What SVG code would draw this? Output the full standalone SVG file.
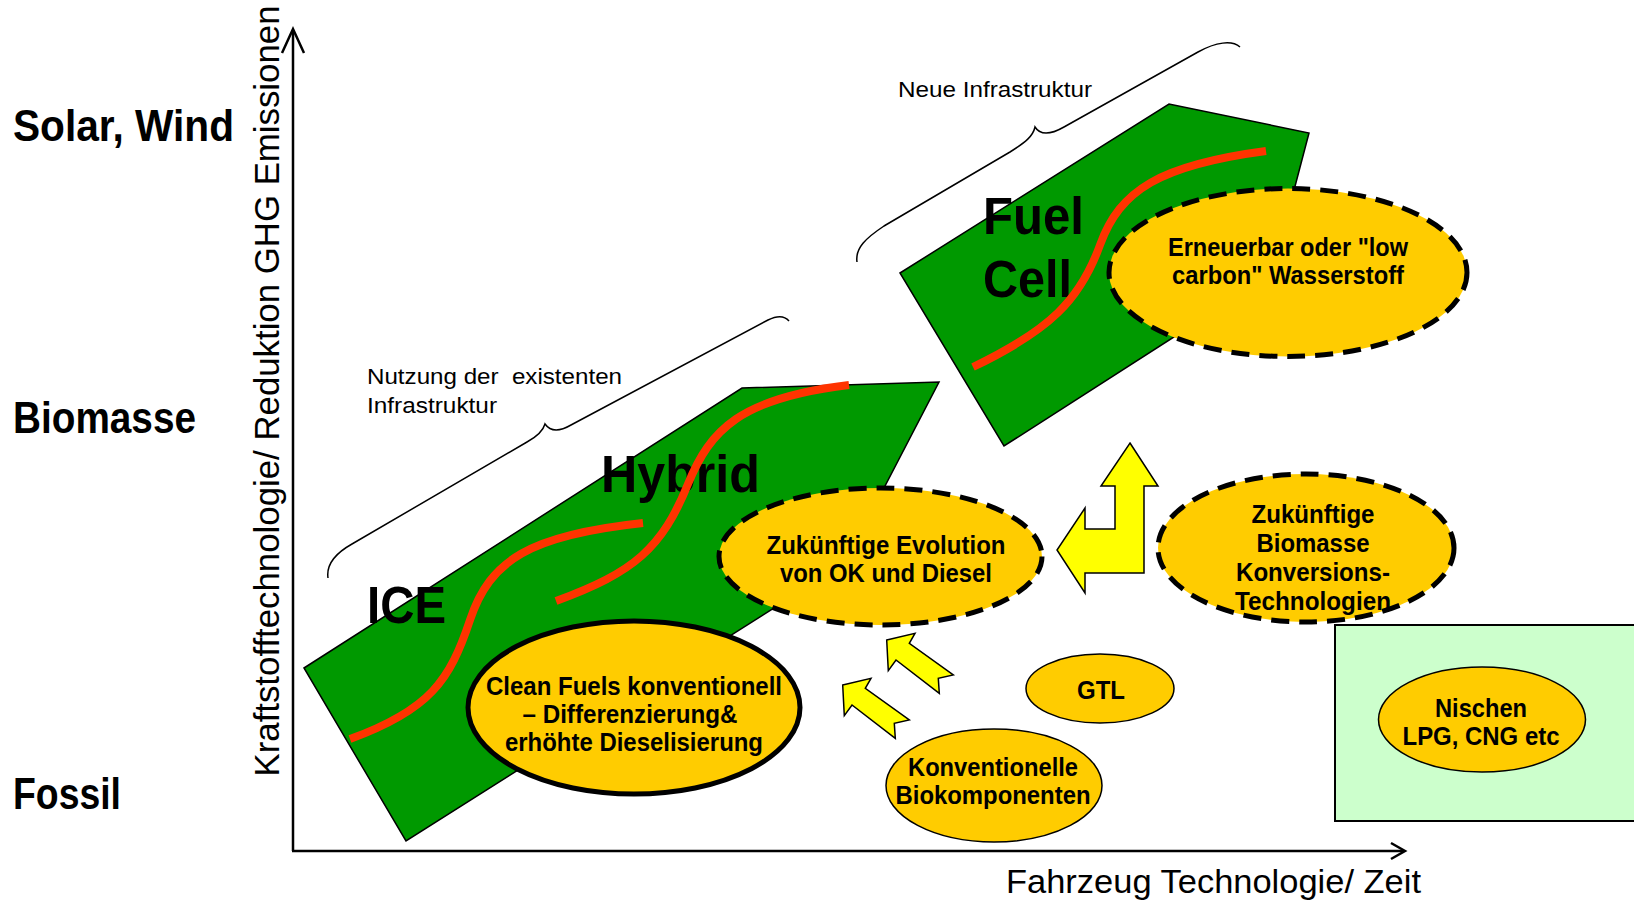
<svg xmlns="http://www.w3.org/2000/svg" width="1634" height="902" viewBox="0 0 1634 902">
<style>
.b{font-family:"Liberation Sans",Arial,sans-serif;font-weight:bold;fill:#000}
.n{font-family:"Liberation Sans",Arial,sans-serif;font-weight:normal;fill:#000}
.et{font-size:25px;text-anchor:middle}
.green{fill:#009900;stroke:#000;stroke-width:1.5;stroke-linejoin:miter}
.ell{fill:#FFCC00;stroke:#000}
.dash{stroke-width:5;stroke-dasharray:18 10}
.solid{stroke-width:1.5}
.thick{stroke-width:5}
.red{fill:none;stroke:#FF3300;stroke-width:8}
.brace{fill:none;stroke:#000;stroke-width:1.5}
.arrow{fill:#FFFF00;stroke:#000;stroke-width:1.5;stroke-linejoin:miter}
.axis{fill:none;stroke:#000;stroke-width:2.5}
</style>
<rect width="1634" height="902" fill="#fff"/>

<g id="axes">
  <line class="axis" x1="293" y1="851" x2="293" y2="30"/>
  <polyline class="axis" points="282,53 293,29 304,53" stroke-width="2"/>
  <line class="axis" x1="292" y1="851" x2="1404" y2="851"/>
  <polyline class="axis" points="1391,843 1405,851 1391,859" stroke-width="2"/>
  <text class="n" font-size="35" text-anchor="middle" textLength="771" lengthAdjust="spacingAndGlyphs" transform="translate(279,391) rotate(-90)">Kraftstofftechnologie/ Reduktion GHG Emissionen</text>
  <text class="n" x="1006" y="893" font-size="34" textLength="415" lengthAdjust="spacingAndGlyphs">Fahrzeug Technologie/ Zeit</text>
</g>

<g id="source-labels">
  <text class="b" x="13" y="141" font-size="45" textLength="221" lengthAdjust="spacingAndGlyphs">Solar, Wind</text>
  <text class="b" x="13" y="433" font-size="45" textLength="183" lengthAdjust="spacingAndGlyphs">Biomasse</text>
  <text class="b" x="13" y="809" font-size="45" textLength="108" lengthAdjust="spacingAndGlyphs">Fossil</text>
</g>

<g id="braces">
  <path class="brace" d="M857,262 C855,248 866,238 884,226 L1010,152 C1026,142 1033,136 1035,127 C1040,135 1050,135 1064,127 L1198,52 C1216,42 1232,40 1240,47"/>
  <text class="n" x="898" y="97" font-size="22" textLength="194" lengthAdjust="spacingAndGlyphs">Neue Infrastruktur</text>
  <path class="brace" d="M328,578 C326,564 336,553 352,544 L527,442 C538,436 543,431 545,424 C550,431 559,432 571,425 L768,320 C776,316 784,315 789,321"/>
  <text class="n" x="367" y="384" font-size="22" textLength="255" lengthAdjust="spacingAndGlyphs" style="white-space:pre">Nutzung der  existenten</text>
  <text class="n" x="367" y="413" font-size="22" textLength="130" lengthAdjust="spacingAndGlyphs">Infrastruktur</text>
</g>

<g id="ice-hybrid">
  <polygon class="green" points="304,668 742,388 939,382 845,563 406,841"/>
  <text class="b" x="367" y="623" font-size="51" textLength="79" lengthAdjust="spacingAndGlyphs">ICE</text>
  <text class="b" x="601" y="492" font-size="51" textLength="159" lengthAdjust="spacingAndGlyphs">Hybrid</text>
</g>

<g id="fuel-cell">
  <polygon class="green" points="900,273 1169,104 1309,133 1272,274 1004,446"/>
  <text class="b" x="983" y="234" font-size="51" textLength="101" lengthAdjust="spacingAndGlyphs">Fuel</text>
  <text class="b" x="983" y="297" font-size="51" textLength="89" lengthAdjust="spacingAndGlyphs">Cell</text>
</g>

<g id="niche-area">
  <rect x="1335" y="625" width="305" height="196" fill="#CCFFCC" stroke="#000" stroke-width="2"/>
</g>

<g id="erneuerbar">
  <ellipse class="ell dash" cx="1288" cy="272.5" rx="179" ry="84"/>
  <text class="b et" x="1288" y="256" textLength="240" lengthAdjust="spacingAndGlyphs">Erneuerbar oder "low</text>
  <text class="b et" x="1288" y="284" textLength="232" lengthAdjust="spacingAndGlyphs">carbon" Wasserstoff</text>
</g>

<g id="evolution">
  <ellipse class="ell dash" cx="880.5" cy="556.5" rx="161.5" ry="68.5"/>
  <text class="b et" x="886" y="554" textLength="239" lengthAdjust="spacingAndGlyphs">Zukünftige Evolution</text>
  <text class="b et" x="886" y="582" textLength="212" lengthAdjust="spacingAndGlyphs">von OK und Diesel</text>
</g>

<g id="biomasse-tech">
  <ellipse class="ell dash" cx="1306" cy="548" rx="148" ry="74"/>
  <text class="b et" x="1313" y="523" textLength="123" lengthAdjust="spacingAndGlyphs">Zukünftige</text>
  <text class="b et" x="1313" y="552" textLength="113" lengthAdjust="spacingAndGlyphs">Biomasse</text>
  <text class="b et" x="1313" y="581" textLength="154" lengthAdjust="spacingAndGlyphs">Konversions-</text>
  <text class="b et" x="1313" y="610" textLength="156" lengthAdjust="spacingAndGlyphs">Technologien</text>
</g>

<g id="clean-fuels">
  <ellipse class="ell thick" cx="634" cy="707.5" rx="166" ry="86.5"/>
  <text class="b et" x="634" y="695" textLength="296" lengthAdjust="spacingAndGlyphs">Clean Fuels konventionell</text>
  <text class="b et" x="630" y="723" textLength="215" lengthAdjust="spacingAndGlyphs">– Differenzierung&amp;</text>
  <text class="b et" x="634" y="751" textLength="258" lengthAdjust="spacingAndGlyphs">erhöhte Dieselisierung</text>
</g>

<g id="gtl">
  <ellipse class="ell solid" cx="1100" cy="688.5" rx="74" ry="34.5"/>
  <text class="b et" x="1101" y="699" textLength="48" lengthAdjust="spacingAndGlyphs">GTL</text>
</g>

<g id="biokomponenten">
  <ellipse class="ell solid" cx="994" cy="785.5" rx="108" ry="56.5"/>
  <text class="b et" x="993" y="776" textLength="170" lengthAdjust="spacingAndGlyphs">Konventionelle</text>
  <text class="b et" x="993" y="804" textLength="195" lengthAdjust="spacingAndGlyphs">Biokomponenten</text>
</g>

<g id="nischen">
  <ellipse class="ell solid" cx="1482" cy="719.5" rx="103.5" ry="52.5"/>
  <text class="b et" x="1481" y="717" textLength="92" lengthAdjust="spacingAndGlyphs">Nischen</text>
  <text class="b et" x="1481" y="745" textLength="157" lengthAdjust="spacingAndGlyphs">LPG, CNG etc</text>
</g>

<g id="curves">
  <path class="red" d="M350,739 C430,710 450,680 470,620 C490,560 530,535 643,523"/>
  <path class="red" d="M556,601 C635,572 662,548 688,484 C710,430 740,398 849,385"/>
  <path class="red" d="M973,367 C1050,330 1080,300 1100,245 C1120,190 1160,165 1266,151"/>
</g>

<g id="connectors">
  <polygon class="arrow" points="886.7,640 915,633.3 909.3,643.3 953.3,675 938.3,678.3 939.3,693.3 896,660 888.3,670.7"/>
  <polygon class="arrow" points="842.7,685 871,678.3 865.3,688.3 909.3,720 894.3,723.3 895.3,738.3 852,705 844.3,715.7"/>
  <polygon class="arrow" points="1130,443 1158,486 1144,486 1144,573 1085,573 1085,593 1057,550 1085,508 1085,529 1115,529 1115,486 1101,486"/>
</g>
</svg>
